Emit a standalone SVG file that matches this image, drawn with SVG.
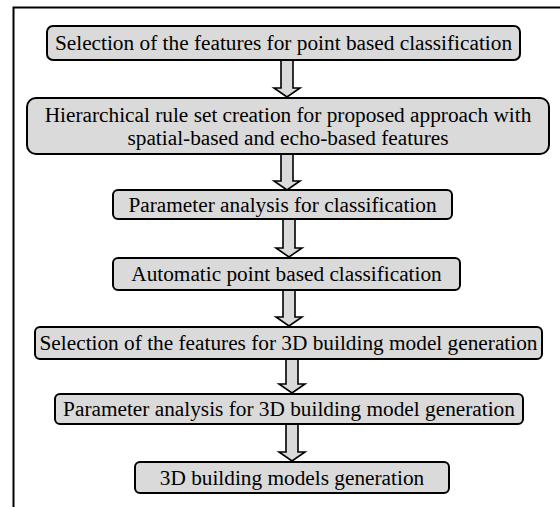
<svg xmlns="http://www.w3.org/2000/svg" width="560" height="507" viewBox="0 0 560 507">
<style>
.box{fill:#dadada;stroke:#000;stroke-width:2}
.arr{fill:#dadada;stroke:#000;stroke-width:1.6;stroke-linejoin:miter}
text{font-family:"Liberation Serif","Times New Roman",serif;font-size:21.3px;fill:#000;text-anchor:middle}
</style>
<rect width="560" height="507" fill="#fff"/>
<g id="frame"><path d="M13.5 507 V7.5 H560" fill="none" stroke="#000" stroke-width="2"/></g>
<g id="connectors">
<polygon class="arr" points="281,60 293,60 293,88 300,88 287,97 274,88 281,88"/>
<polygon class="arr" points="281,154 293,154 293,181 300,181 287,190 274,181 281,181"/>
<polygon class="arr" points="283,219 295,219 295,248 302,248 289,257 276,248 283,248"/>
<polygon class="arr" points="283,290 295,290 295,317 302,317 289,326 276,317 283,317"/>
<polygon class="arr" points="286,359 298,359 298,384 305,384 292,393 279,384 286,384"/>
<polygon class="arr" points="286,424 298,424 298,452 305,452 292,461 279,452 286,452"/>
</g>
<g id="n1"><rect class="box" x="47" y="26" width="473" height="34" rx="6"/><text x="283.5" y="50">Selection of the features for point based classification</text></g>
<g id="n2"><rect class="box" x="27" y="98" width="522" height="56" rx="9"/><text x="288" y="122">Hierarchical rule set creation for proposed approach with</text><text x="288" y="145">spatial-based and echo-based features</text></g>
<g id="n3"><rect class="box" x="113" y="190" width="339" height="29" rx="5"/><text x="282.5" y="212">Parameter analysis for classification</text></g>
<g id="n4"><rect class="box" x="113" y="258" width="347" height="32" rx="5"/><text x="286.5" y="281">Automatic point based classification</text></g>
<g id="n5"><rect class="box" x="35" y="327" width="507" height="32" rx="5"/><text x="288.5" y="350">Selection of the features for 3D building model generation</text></g>
<g id="n6"><rect class="box" x="55" y="394" width="468" height="30" rx="5"/><text x="289" y="416">Parameter analysis for 3D building model generation</text></g>
<g id="n7"><rect class="box" x="135" y="462" width="314" height="31" rx="5"/><text x="292" y="485">3D building models generation</text></g>
</svg>
